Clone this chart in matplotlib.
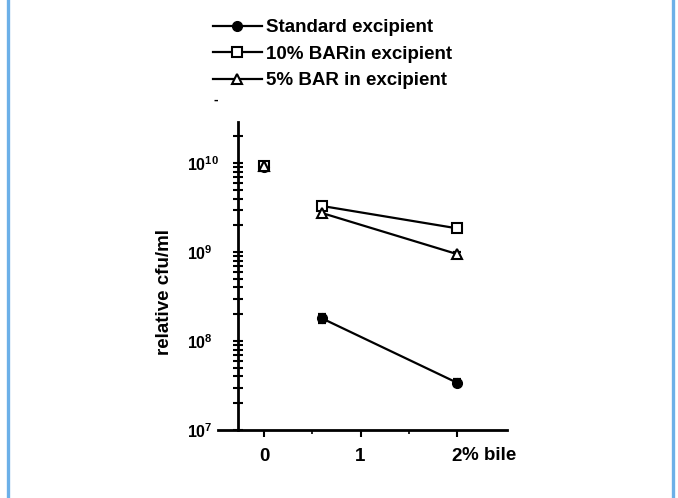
import matplotlib
matplotlib.use("Agg")
from matplotlib import pyplot as plt
from matplotlib.lines import Line2D
from matplotlib.ticker import FixedLocator, LogLocator, NullFormatter

plt.rcParams['font.family'] = ['Liberation Sans', 'DejaVu Sans']
plt.rcParams['font.weight'] = 'bold'
plt.rcParams['axes.labelweight'] = 'bold'
plt.rcParams['mathtext.fontset'] = 'custom'
plt.rcParams['mathtext.rm'] = 'Liberation Sans:bold'
plt.rcParams['mathtext.bf'] = 'Liberation Sans:bold'

# data
bile = [0, 0.6, 2]
standard = [9.0e9, 1.8e8, 3.4e7]
standard_err = [6e8, 2.2e7, 3e6]
bar10 = [9.2e9, 3.3e9, 1.85e9]
bar10_err = [5e8, 2.5e8, 1.6e8]
bar5 = [9.3e9, 2.75e9, 9.5e8]
bar5_err = [4e8, 2e8, 6e7]
labels = ["Standard excipient", "10% BARin excipient", "5% BAR in excipient"]
y_major = [1e7, 1e8, 1e9, 1e10]
y_labels = [r"$\mathregular{10^{7}}$", r"$\mathregular{10^{8}}$",
            r"$\mathregular{10^{9}}$", r"$\mathregular{10^{10}}$"]
x_major = [0, 1, 2]
x_labels = ["0", "1", "2"]

W, H = 678, 498
fig = plt.figure(figsize=(W / 100, H / 100), dpi=100)
ax = fig.add_axes([218 / W, 1 - 430 / H, (507 - 218) / W, (430 - 122) / H])

lw = 1.6
styles = [
    (standard, standard_err, dict(marker="o", ms=7, mfc="black")),
    (bar10, bar10_err, dict(marker="s", ms=7, mfc="white", mew=1.5)),
    (bar5, bar5_err, dict(marker="^", ms=7.5, mfc="white", mew=1.5)),
]
handles = []
for (vals, err, st), lab in zip(styles, labels):
    # the 0 point stands alone, the line only joins the bile points
    ax.plot(bile[1:], vals[1:], color="black", lw=lw, zorder=2)
    ax.errorbar(bile, vals, yerr=err, fmt="none", ecolor="black", elinewidth=lw,
                capsize=3, capthick=lw, zorder=3)
    ax.plot(bile, vals, ls="none", mec="black", zorder=4, **st)
    handles.append(Line2D([], [], color="black", lw=lw, mec="black", **st))

ax.set_yscale("log")
ax.set_ylim(1e7, 2.9e10)
ax.set_xlim(-0.477, 2.518)

for s in ["top", "right"]:
    ax.spines[s].set_visible(False)
ax.spines["left"].set_position(("data", -0.27))
ax.spines["left"].set_linewidth(2)
ax.spines["bottom"].set_linewidth(2)

ax.yaxis.set_major_locator(FixedLocator(y_major))
ax.set_yticklabels(y_labels, fontsize=11.5)
ax.yaxis.set_minor_locator(LogLocator(base=10, subs=range(2, 10)))
ax.yaxis.set_minor_formatter(NullFormatter())
ax.tick_params(axis="y", which="both", direction="inout", length=7, width=1.5)
ax.tick_params(axis="y", which="major", pad=33)
for t in ax.get_yticklabels():
    t.set_horizontalalignment("left")

ax.xaxis.set_major_locator(FixedLocator(x_major))
ax.set_xticklabels(x_labels, fontsize=13.5)
ax.xaxis.set_minor_locator(FixedLocator([0.5, 1.5]))
ax.tick_params(axis="x", which="major", direction="out", length=5, width=1.5, pad=8)
ax.tick_params(axis="x", which="minor", direction="out", length=3, width=1.2)
ax.annotate("% bile", xy=(2, 0), xycoords=("data", "axes fraction"),
            xytext=(3.5, -12.6), textcoords="offset points", ha="left", va="top",
            fontsize=13.5)

ax.set_ylabel("relative cfu/ml", fontsize=13.5)
ax.yaxis.set_label_coords(-0.155, 0.448)

fig.legend(handles, labels, loc="upper left", bbox_to_anchor=(213 / W, 1 - 19 / H),
           frameon=False, fontsize=13.5, handlelength=2.6, handletextpad=0.2,
           labelspacing=0.5, borderpad=0, borderaxespad=0)

# stray dash under the legend and the blue side rules
fig.text(213 / W, 1 - 100 / H, "-", fontsize=10, va="center")
for xb in [7.5, 672.5]:
    fig.add_artist(Line2D([xb / W, xb / W], [0, 1], color="#6cb0e8", lw=2.4))

fig.savefig("out.png", dpi=100)
